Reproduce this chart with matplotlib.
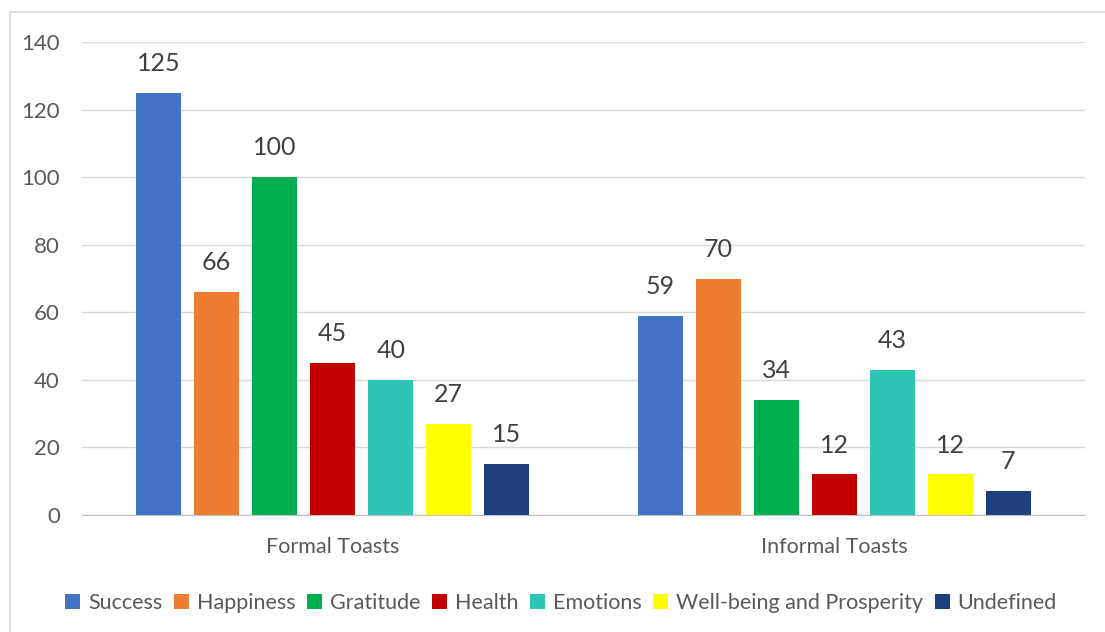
import numpy as np
import matplotlib
matplotlib.use("Agg")
import matplotlib.pyplot as plt
from matplotlib.patches import Rectangle

plt.rcParams['font.family'] = ['Lato', 'DejaVu Sans']

groups = ['Formal Toasts', 'Informal Toasts']
themes = ['Success', 'Happiness', 'Gratitude', 'Health', 'Emotions',
          'Well-being and Prosperity', 'Undefined']
success = [125, 59]
happiness = [66, 70]
gratitude = [100, 34]
health = [45, 12]
emotions = [40, 43]
wellbeing = [27, 12]
undefined = [15, 7]
colors = ['#4472c4', '#ed7d31', '#00b050', '#c00000', '#2ec4b6', '#ffff00', '#203f7f']

series = [success, happiness, gratitude, health, emotions, wellbeing, undefined]

W, H = 1105, 632
fig = plt.figure(figsize=(W / 100, H / 100), dpi=100)
# outer chart frame (left/top visible, rest runs off the edge)
fig.patches.append(Rectangle((10 / W, -0.1), 1.2, 1 - 12 / H + 0.1,
                             transform=fig.transFigure, fill=False,
                             edgecolor='#d9d9d9', linewidth=1.2))

ax = fig.add_axes([82 / W, 1 - 515 / H, (1085 - 82) / W, (515 - 42) / H])

x = np.arange(len(groups))
step = 0.1157
width = 0.0897
for i, (name, vals, c) in enumerate(zip(themes, series, colors)):
    pos = x + (i - 3) * step
    ax.bar(pos, vals, width, color=c, label=name, zorder=3)
    for p, v in zip(pos, vals):
        ax.text(p, v + 5.3, str(v), ha='center', va='bottom',
                fontsize=18, color='#404040')

ax.set_xlim(-0.5, 1.5)
ax.set_ylim(0, 140)
ax.set_yticks(range(0, 141, 20))
ax.set_xticks(x)
ax.set_xticklabels(groups, fontsize=15.5)
ax.yaxis.grid(True, color='#d9d9d9', linewidth=1, zorder=0)
for s in ['top', 'right', 'left']:
    ax.spines[s].set_visible(False)
ax.spines['bottom'].set_color('#bfbfbf')
ax.tick_params(axis='both', length=0, colors='#595959')
ax.tick_params(axis='y', pad=16, labelsize=16)
ax.tick_params(axis='x', pad=16)

ax.legend(loc='center', bbox_to_anchor=(561 / W, 1 - 603 / H),
          bbox_transform=fig.transFigure, ncol=7, frameon=False,
          fontsize=15.5, labelcolor='#595959', handlelength=0.7,
          handleheight=0.7, handletextpad=0.35, columnspacing=0.55)

fig.savefig('out.png', dpi=100)
